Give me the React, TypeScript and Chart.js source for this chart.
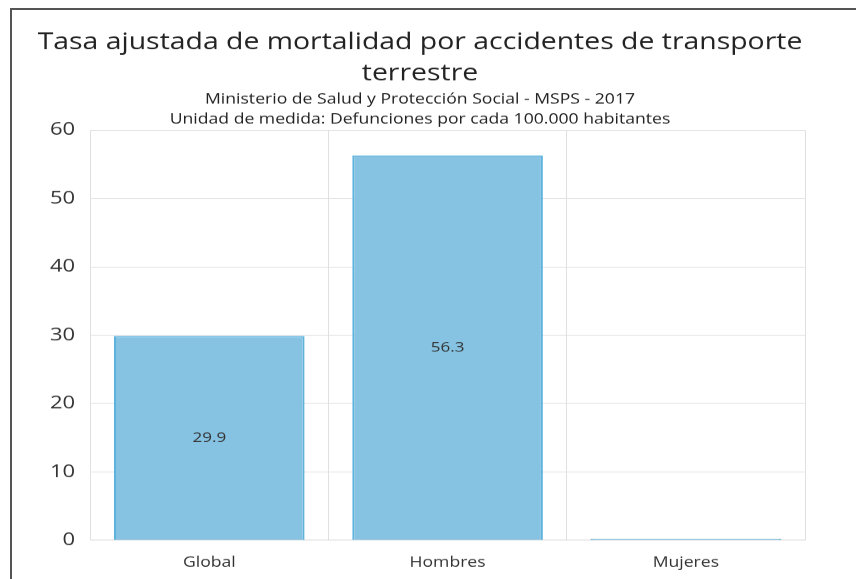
import React, { useEffect, useRef } from "react";
import { Chart, registerables } from "chart.js";

Chart.register(...registerables);

const categories = ["Global", "Hombres", "Mujeres"];
const values = [29.9, 56.3, 0];
const titleLines = ["Tasa ajustada de mortalidad por accidentes de transporte", "terrestre"];
const subtitleLines = [
  "Ministerio de Salud y Protección Social - MSPS - 2017",
  "Unidad de medida: Defunciones por cada 100.000 habitantes",
];

const FONT = "'Open Sans', 'Noto Sans', sans-serif";
const SY = 0.8;
const CW = 820;
const CH = 721;

const valueLabels = {
  id: "valueLabels",
  afterDatasetsDraw(chart: any) {
    const ctx = chart.ctx;
    const meta = chart.getDatasetMeta(0);
    ctx.save();
    ctx.font = `17px ${FONT}`;
    ctx.fillStyle = "#333";
    ctx.textAlign = "center";
    ctx.textBaseline = "middle";
    meta.data.forEach((bar: any, i: number) => {
      const v = values[i];
      if (!v) return;
      const y = (bar.y + bar.base) / 2;
      ctx.fillText(String(v), bar.x, y);
    });
    ctx.restore();
  },
};

export default function App() {
  const ref = useRef<HTMLCanvasElement>(null);
  useEffect(() => {
    if (!ref.current) return;
    const chart = new Chart(ref.current, {
      type: "bar",
      data: {
        labels: categories,
        datasets: [
          {
            data: values,
            backgroundColor: "#86C3E3",
            borderColor: "#5EB3DD",
            borderWidth: 2,
            barPercentage: 1,
            categoryPercentage: 0.8,
            minBarLength: 2,
          },
        ],
      },
      options: {
        animation: false,
        responsive: false,
        maintainAspectRatio: false,
        layout: { padding: { left: 23, right: 27, top: 22, bottom: 1 } },
        plugins: {
          legend: { display: false },
          tooltip: { enabled: false },
          title: {
            display: true,
            text: titleLines,
            color: "#222",
            font: { family: FONT, size: 28.4, weight: "normal", lineHeight: 1.36 },
            padding: { top: 0, bottom: 0 },
          },
          subtitle: {
            display: true,
            text: subtitleLines,
            color: "#222",
            font: { family: FONT, size: 17.6, weight: "normal", lineHeight: 1.42 },
            padding: { top: 0, bottom: 1 },
          },
        },
        scales: {
          x: {
            grid: { color: "#e0e0e0", drawTicks: false, offset: true },
            border: { color: "#d4d4d4" },
            ticks: { color: "#333", font: { family: FONT, size: 17.6 }, padding: 18 },
          },
          y: {
            min: 0,
            max: 60,
            grid: { color: "#e0e0e0", drawTicks: false },
            border: { color: "#e0e0e0" },
            ticks: { stepSize: 10, color: "#333", font: { family: FONT, size: 22 }, padding: 15 },
          },
        },
      },
      plugins: [valueLabels],
    });
    return () => chart.destroy();
  }, []);
  return (
    <div
      style={{
        position: "absolute",
        left: 10,
        top: 8,
        width: 860,
        height: 590,
        borderTop: "2px solid #555",
        borderLeft: "2px solid #555",
        background: "#fff",
        overflow: "hidden",
      }}
    >
      <canvas
        ref={ref}
        width={CW}
        height={CH}
        style={{
          position: "absolute",
          left: 0,
          top: 0,
          transform: `scale(1, ${SY})`,
          transformOrigin: "0 0",
        }}
      />
    </div>
  );
}
